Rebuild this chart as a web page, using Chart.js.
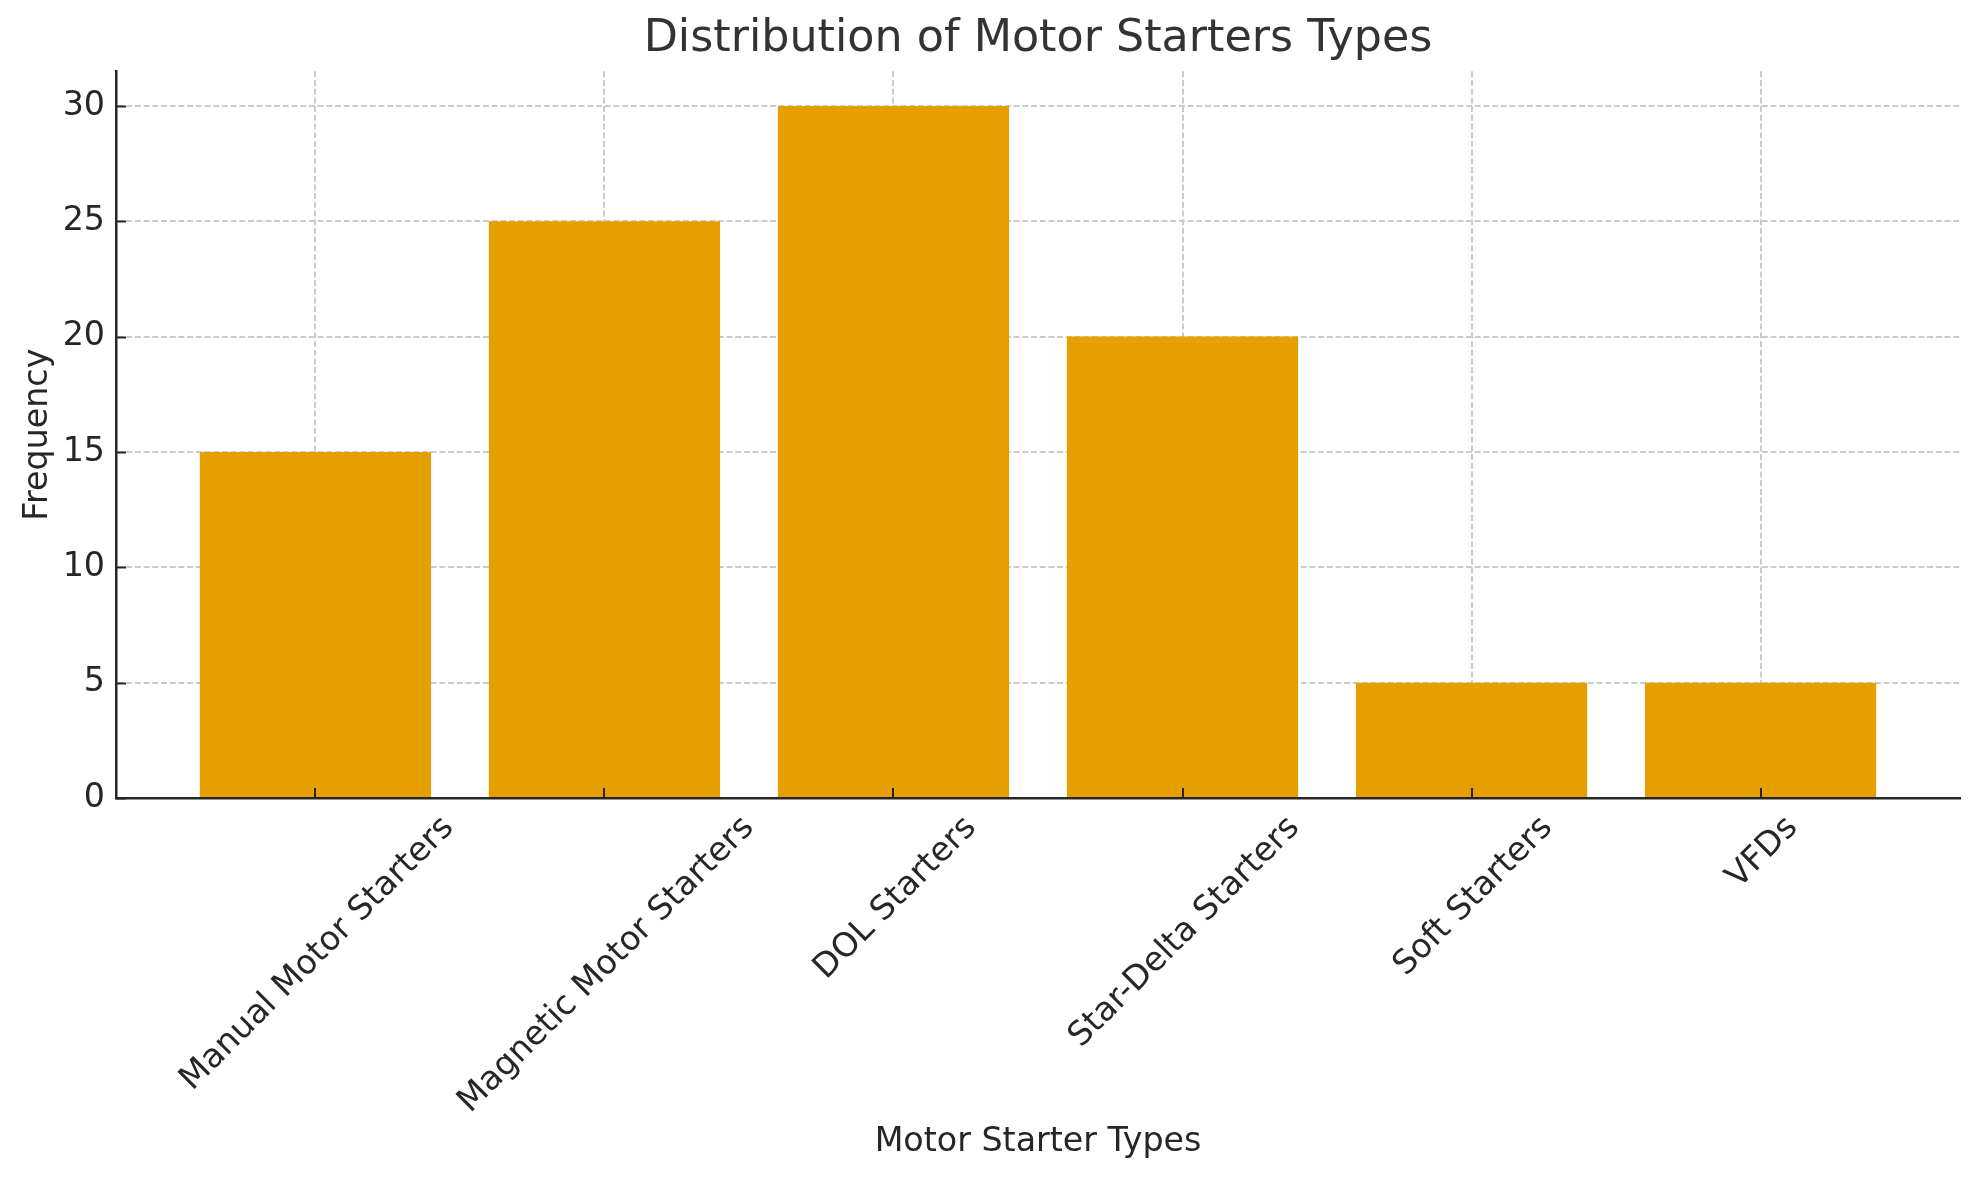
<!DOCTYPE html>
<html>
<head>
<meta charset="utf-8">
<script src="https://cdn.jsdelivr.net/npm/chart.js@4.4.0/dist/chart.umd.min.js"></script>
<style>
html,body{margin:0;padding:0;background:#ffffff;}
#wrap{width:1979px;height:1180px;}
</style>
</head>
<body>
<div id="wrap"><canvas id="c" width="1979" height="1180"></canvas></div>
<script>
const categories = ["Manual Motor Starters", "Magnetic Motor Starters", "DOL Starters", "Star-Delta Starters", "Soft Starters", "VFDs"];
const frequencies = [15, 25, 30, 20, 5, 5];
const yTickValues = [0, 5, 10, 15, 20, 25, 30];

const FONT = '"DejaVu Sans", "Liberation Sans", sans-serif';
const TEXT = '#262626';
const BAR = '#E69F00';
const GRID = '#cbcbcb';
const LABEL_SIZE = 33.3;

const points = categories.map((c, i) => ({ x: i, y: frequencies[i] }));

const innerTicks = {
  id: 'innerTicks',
  afterDraw(chart) {
    const { ctx, chartArea } = chart;
    const xs = chart.scales.x, ys = chart.scales.y;
    ctx.save();
    ctx.strokeStyle = TEXT;
    ctx.lineWidth = 2;
    yTickValues.forEach(v => {
      const y = Math.round(ys.getPixelForValue(v)) + 0.5;
      ctx.beginPath();
      ctx.moveTo(chartArea.left, y);
      ctx.lineTo(chartArea.left + 10, y);
      ctx.stroke();
    });
    categories.forEach((c, i) => {
      const x = Math.round(xs.getPixelForValue(i));
      ctx.beginPath();
      ctx.moveTo(x, chartArea.bottom);
      ctx.lineTo(x, chartArea.bottom - 10);
      ctx.stroke();
    });
    // rotated category labels, centred on the tick like matplotlib
    const size = LABEL_SIZE;
    ctx.font = size + 'px ' + FONT;
    ctx.fillStyle = TEXT;
    ctx.textAlign = 'center';
    ctx.textBaseline = 'alphabetic';
    const H = size * 1.164;
    categories.forEach((c, i) => {
      const x = xs.getPixelForValue(i);
      const L = ctx.measureText(c).width;
      const half = (L + H) / (2 * Math.SQRT2);
      const cy = chartArea.bottom + 9 + half;
      ctx.save();
      ctx.translate(x, cy);
      ctx.rotate(-Math.PI / 4);
      ctx.fillText(c, 0, (0.928 - 0.236) / 2 * size);
      ctx.restore();
    });
    ctx.restore();
  }
};

new Chart(document.getElementById('c'), {
  type: 'bar',
  data: {
    datasets: [{
      label: 'Frequency',
      data: points,
      backgroundColor: BAR,
      borderWidth: 0,
      barPercentage: 1.0,
      categoryPercentage: 0.8
    }]
  },
  options: {
    responsive: false,
    devicePixelRatio: 1,
    animation: false,
    layout: { padding: { left: 0, right: 19, top: 0, bottom: 0 } },
    plugins: {
      legend: { display: false },
      tooltip: { enabled: false },
      title: {
        display: true,
        fullSize: false,
        text: 'Distribution of Motor Starters Types',
        color: '#333333',
        font: { family: FONT, size: 44.4, weight: 'normal' },
        padding: { top: 13, bottom: 5 }
      }
    },
    scales: {
      x: {
        type: 'linear',
        min: -0.69,
        max: 5.69,
        offset: false,
        z: 1,
        afterBuildTicks: s => { s.ticks = categories.map((c, i) => ({ value: i })); },
        afterFit: s => { s.height = 382; },
        ticks: { display: false },
        grid: { display: true, offset: false, color: GRID, lineWidth: 2, drawTicks: false },
        border: { display: true, color: TEXT, width: 2.5, dash: [6, 2.7] },
        title: {
          display: true,
          text: 'Motor Starter Types',
          color: TEXT,
          font: { family: FONT, size: LABEL_SIZE, weight: 'normal' },
          padding: { top: 0, bottom: 18 }
        }
      },
      y: {
        type: 'linear',
        min: 0,
        max: 31.5,
        z: 1,
        afterBuildTicks: s => { s.ticks = yTickValues.map(v => ({ value: v })); },
        afterFit: s => { s.width = 116; },
        ticks: {
          color: TEXT,
          font: { family: FONT, size: LABEL_SIZE },
          padding: 11
        },
        grid: { display: true, color: GRID, lineWidth: 2, drawTicks: false },
        border: { display: true, color: TEXT, width: 2.5, dash: [6, 2.7] },
        title: {
          display: true,
          text: 'Frequency',
          color: TEXT,
          font: { family: FONT, size: LABEL_SIZE, weight: 'normal' },
          padding: { top: 18, bottom: 0 }
        }
      }
    }
  },
  plugins: [innerTicks]
});
</script>
</body>
</html>
